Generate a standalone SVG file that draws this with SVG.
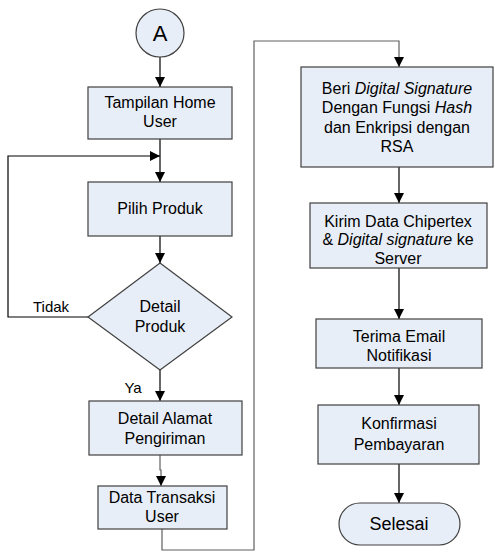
<svg xmlns="http://www.w3.org/2000/svg" width="495" height="557" viewBox="0 0 495 557">
<defs>
<style>
.n{fill:#E8EEF7;stroke:#404040;stroke-width:1.2}
.t{font-family:"Liberation Sans",Arial,sans-serif;font-size:16px;fill:#000;text-anchor:middle}
.l{font-size:15px}
.c{fill:none;stroke:#000;stroke-width:1.2}
.g{fill:none;stroke:#606060;stroke-width:1.2}
</style>
<marker id="ah" markerWidth="10" markerHeight="10" viewBox="0 0 10 10" refX="10" refY="5" orient="auto" markerUnits="userSpaceOnUse">
<path d="M0,0 L10,5 L0,10 Z" fill="#000"/>
</marker>
</defs>
<rect width="495" height="557" fill="#fff"/>
<g id="connectors">
<path class="c" d="M160,57 V87" marker-end="url(#ah)"/>
<path class="c" d="M160,139 V182" marker-end="url(#ah)"/>
<path class="c" d="M160,236 V263" marker-end="url(#ah)"/>
<path class="c" d="M88,317 H8 V156 H160" marker-end="url(#ah)"/>
<path class="c" d="M160,370 V401" marker-end="url(#ah)"/>
<path class="g" d="M160,455 V470 H161 V486" marker-end="url(#ah)"/>
<path class="g" d="M162,529 V550 H254 V41 H399 V67" marker-end="url(#ah)"/>
<path class="c" d="M399,167 V203" marker-end="url(#ah)"/>
<path class="c" d="M399,268 V319" marker-end="url(#ah)"/>
<path class="c" d="M399,368 V405" marker-end="url(#ah)"/>
<path class="c" d="M399,464 V503" marker-end="url(#ah)"/>
<text class="t l" x="51" y="312">Tidak</text>
<text class="t l" x="133" y="393">Ya</text>
</g>
<g id="start">
<circle class="n" cx="160" cy="33" r="24"/>
<text class="t" x="160" y="41" style="font-size:22px">A</text>
</g>
<g id="tampilan">
<rect class="n" x="88" y="87" width="144" height="52"/>
<text class="t" x="160" y="108">Tampilan Home</text>
<text class="t" x="160" y="127">User</text>
</g>
<g id="pilih">
<rect class="n" x="88" y="182" width="144" height="54"/>
<text class="t" x="160" y="214">Pilih Produk</text>
</g>
<g id="detail-produk">
<polygon class="n" points="160,263 232,317 160,370 88,317"/>
<text class="t" x="160" y="312">Detail</text>
<text class="t" x="160" y="332">Produk</text>
</g>
<g id="alamat">
<rect class="n" x="89" y="401" width="153" height="54"/>
<text class="t" x="165" y="424">Detail Alamat</text>
<text class="t" x="165" y="444">Pengiriman</text>
</g>
<g id="transaksi">
<rect class="n" x="98" y="486" width="129" height="43"/>
<text class="t" x="162" y="503">Data Transaksi</text>
<text class="t" x="162" y="522">User</text>
</g>
<g id="signature">
<rect class="n" x="301" y="67" width="192" height="100"/>
<text class="t" x="397" y="94">Beri <tspan font-style="italic">Digital Signature</tspan></text>
<text class="t" x="397" y="113">Dengan Fungsi <tspan font-style="italic">Hash</tspan></text>
<text class="t" x="397" y="133">dan Enkripsi dengan</text>
<text class="t" x="397" y="152">RSA</text>
</g>
<g id="kirim">
<rect class="n" x="310" y="203" width="177" height="65"/>
<text class="t" x="398" y="227">Kirim Data Chipertex</text>
<text class="t" x="398" y="245">&amp; <tspan font-style="italic">Digital signature</tspan> ke</text>
<text class="t" x="398" y="264">Server</text>
</g>
<g id="email">
<rect class="n" x="316" y="319" width="166" height="49"/>
<text class="t" x="399" y="342">Terima Email</text>
<text class="t" x="399" y="361">Notifikasi</text>
</g>
<g id="konfirmasi">
<rect class="n" x="318" y="405" width="161" height="59"/>
<text class="t" x="399" y="429">Konfirmasi</text>
<text class="t" x="399" y="450">Pembayaran</text>
</g>
<g id="selesai">
<rect class="n" x="339" y="503" width="121" height="42" rx="21" ry="21"/>
<text class="t" x="399" y="530" style="font-size:18px">Selesai</text>
</g>
</svg>
